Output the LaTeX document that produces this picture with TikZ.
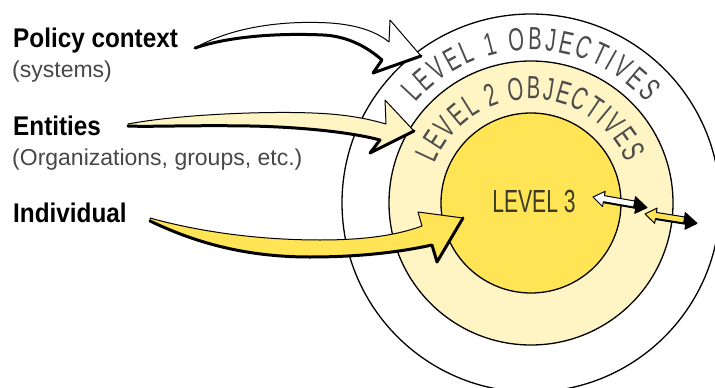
\documentclass[tikz,border=0pt]{standalone}
\usepackage{fontspec}
\setmainfont{Liberation Sans}
\newfontfamily\headfont[FakeStretch=0.9]{Liberation Sans}
\newfontfamily\arcfont[FakeStretch=0.63]{Liberation Sans}
\newfontfamily\levelfont[FakeStretch=0.66]{Liberation Sans}
\usetikzlibrary{decorations.text}

\definecolor{ringpale}{HTML}{FFF4C4}
\definecolor{coreyellow}{HTML}{FFE456}
\definecolor{arctext}{HTML}{4C4C4C}
\definecolor{subtext}{HTML}{474747}
\definecolor{leveltext}{HTML}{3C3A28}

\tikzset{
  ring/.style={circle, draw=black, line width=1.3pt, inner sep=0pt},
  headlabel/.style={anchor=base west, inner sep=0pt, font=\headfont\bfseries\fontsize{27}{27}\selectfont},
  sublabel/.style={anchor=base west, inner sep=0pt, text=subtext, font=\fontsize{23}{23}\selectfont},
  arrowbody/.style={draw=black, line width=1pt, line join=round},
  arrowshade/.style={draw=black, line width=3pt, line join=round, line cap=round},
  arctitle/.style={decorate, decoration={text along path, text align={fit to path}, text color=arctext}}
}

\begin{document}
\begin{tikzpicture}[x=1pt,y=1pt]
\useasboundingbox (0,0) rectangle (715,-388);
\clip (0,0) rectangle (715,-388);

% concentric levels
\coordinate (C) at (531,-203);
\node[ring, fill=white, minimum size=378pt] (L1) at (C) {};
\node[ring, fill=ringpale, minimum size=284pt] (L2) at (C) {};
\node[ring, fill=coreyellow, minimum size=180pt] (L3) at (C) {};

% curved titles of the two outer rings
\path[arctitle, decoration={text={|\arcfont\fontsize{32}{32}\selectfont|LEVEL 1 OBJECTIVES}}]
  ([shift={(139:153pt)}]C) arc[start angle=139, end angle=41, radius=153pt];
\path[arctitle, decoration={text={|\arcfont\fontsize{32}{32}\selectfont|LEVEL 2 OBJECTIVES}}]
  ([shift={(158:104pt)}]C) arc[start angle=158, end angle=23, radius=104pt];

\node[inner sep=0pt, text=leveltext, font=\levelfont\fontsize{32}{32}\selectfont] (lvl3) at (534,-201) {LEVEL 3};

% labels on the left
\node[headlabel] (policy) at (13,-47) {Policy context};
\node[sublabel] (systems) at (12,-77) {(systems)};
\node[headlabel] (entities) at (13,-135) {Entities};
\node[sublabel] (orgs) at (12,-165) {(Organizations, groups, etc.)};
\node[headlabel] (indiv) at (13,-222) {Individual};

% policy context arrow (white)
\path[arrowbody, fill=white]
  (195,-48) .. controls (230,-28) and (280,-20) .. (330,-23)
  .. controls (360,-25) and (378,-33) .. (389,-42)
  -- (390,-20) -- (421,-56) -- (373,-73) -- (382,-60)
  .. controls (365,-45) and (345,-36) .. (323,-35)
  .. controls (280,-33) and (230,-36) .. (195,-48) -- cycle;
\draw[arrowshade]
  (195,-48) .. controls (230,-36) and (280,-33) .. (323,-35)
  .. controls (345,-36) and (365,-45) .. (382,-60) -- (373,-73) -- (421,-56);

% entities arrow (pale yellow)
\path[arrowbody, fill=ringpale]
  (128,-124) .. controls (180,-114) and (280,-110) .. (330,-114)
  .. controls (355,-116) and (372,-120) .. (386,-124)
  -- (385,-100) -- (414,-131) -- (370,-153) -- (380,-140)
  .. controls (350,-132) and (300,-127) .. (250,-126)
  .. controls (190,-125) and (150,-127) .. (128,-126) -- cycle;
\draw[arrowshade]
  (128,-126) .. controls (150,-127) and (190,-125) .. (250,-126)
  .. controls (300,-127) and (350,-132) .. (380,-140) -- (370,-153) -- (414,-131);

% individual arrow (yellow)
\path[arrowbody, fill=coreyellow]
  (150,-218) .. controls (200,-232) and (260,-240) .. (320,-240)
  .. controls (370,-240) and (400,-234) .. (422,-226)
  -- (418,-212) -- (463,-218) -- (437,-262) -- (432,-245)
  .. controls (400,-252) and (360,-257) .. (310,-257)
  .. controls (240,-257) and (190,-240) .. (150,-221) -- cycle;
\draw[arrowshade]
  (150,-221) .. controls (190,-240) and (240,-257) .. (310,-257)
  .. controls (360,-257) and (400,-252) .. (432,-245) -- (437,-262) -- (463,-218);

% small two-way arrows across the ring boundaries
\begin{scope}[shift={(593,-197)}, rotate=-10, scale=1.1]
  \path[arrowbody, fill=white] (0,0) -- (10,7) -- (10,3) -- (40,3) -- (40,-3) -- (10,-3) -- (10,-7) -- cycle;
  \path[draw=black, fill=black, line width=1pt, line join=round] (38,7) -- (50,-1) -- (40,-8) -- (40,-3) -- (38,-3) -- cycle;
  \draw[line width=2pt] (10,-3) -- (40,-3);
\end{scope}
\begin{scope}[shift={(645,-214)}, rotate=-9, scale=1.1]
  \path[arrowbody, fill=coreyellow] (0,0) -- (10,7) -- (10,3) -- (38,3) -- (38,-3) -- (10,-3) -- (10,-7) -- cycle;
  \path[draw=black, fill=black, line width=1pt, line join=round] (36,7) -- (48,-1) -- (38,-8) -- (38,-3) -- (36,-3) -- cycle;
  \draw[line width=2pt] (10,-3) -- (38,-3);
\end{scope}
\end{tikzpicture}
\end{document}
